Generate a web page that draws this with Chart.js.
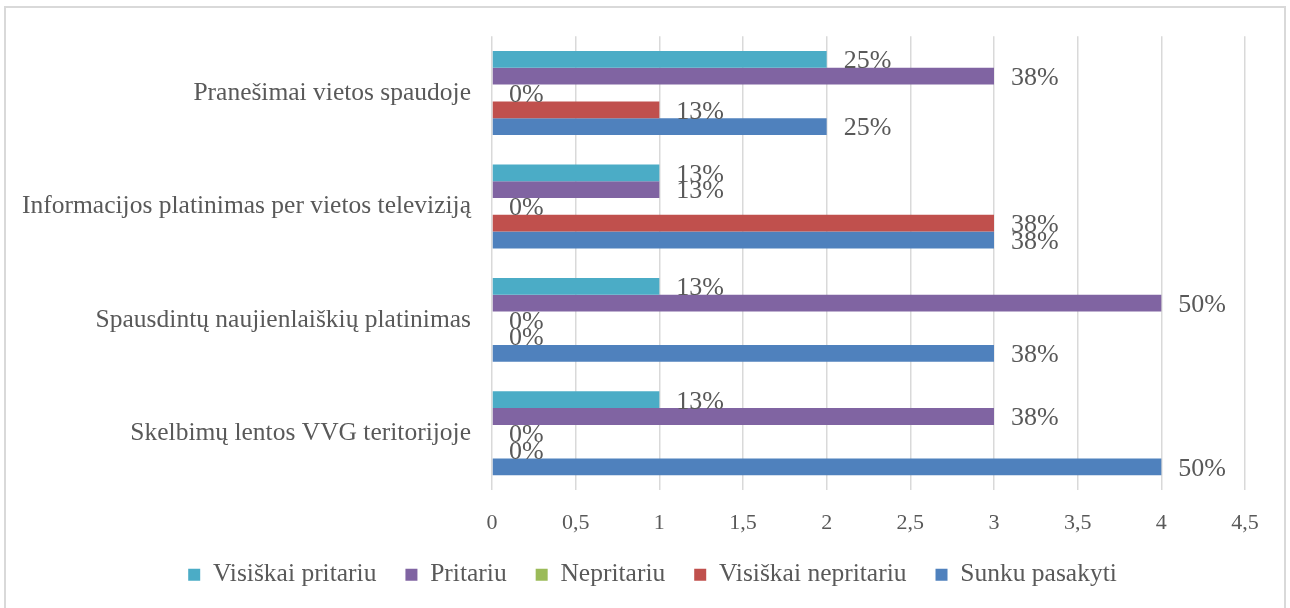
<!DOCTYPE html>
<html>
<head>
<meta charset="utf-8">
<script src="https://cdn.jsdelivr.net/npm/chart.js@4"></script>
<style>
    html, body { margin: 0; padding: 0; background: #fff; }
    #wrap { position: relative; width: 1290px; height: 608px; overflow: hidden; }
    #frame { position: absolute; left: 4px; top: 6px; width: 1282px; height: 620px; border: 2px solid #d9d9d9; box-sizing: border-box; }
    #chart { position: absolute; left: 0; top: 0; }
</style>
</head>
<body>
<div id="wrap">
    <div id="frame"></div>
    <canvas id="chart" width="1290" height="608"></canvas>
</div>
<script>
// ----------------------------------------------------------------------------
// Data
// ----------------------------------------------------------------------------
const categories = [
    'Pranešimai vietos spaudoje',
    'Informacijos platinimas per vietos televiziją',
    'Spausdintų naujienlaiškių platinimas',
    'Skelbimų lentos VVG teritorijoje'
];

const seriesNames = ['Visiškai pritariu', 'Pritariu', 'Nepritariu', 'Visiškai nepritariu', 'Sunku pasakyti'];

// counts per series, one value per category
const visiskaiPritariu = [2, 1, 1, 1];
const pritariu = [3, 1, 4, 3];
const nepritariu = [0, 0, 0, 0];
const visiskaiNepritariu = [1, 3, 0, 0];
const sunkuPasakyti = [2, 3, 3, 4];

// percentage labels printed next to each bar
const visiskaiPritariuPct = ['25%', '13%', '13%', '13%'];
const pritariuPct = ['38%', '13%', '50%', '38%'];
const nepritariuPct = ['0%', '0%', '0%', '0%'];
const visiskaiNepritariuPct = ['13%', '38%', '0%', '0%'];
const sunkuPasakytiPct = ['25%', '38%', '38%', '50%'];

const xTicks = [0, 0.5, 1, 1.5, 2, 2.5, 3, 3.5, 4, 4.5];

const colors = ['#4BACC6', '#8064A2', '#9BBB59', '#C0504D', '#4F81BD'];

const FONT = "'Liberation Serif', 'DejaVu Serif', serif";
const TEXT = '#595959';

const seriesValues = [visiskaiPritariu, pritariu, nepritariu, visiskaiNepritariu, sunkuPasakyti];
const seriesLabels = [visiskaiPritariuPct, pritariuPct, nepritariuPct, visiskaiNepritariuPct, sunkuPasakytiPct];

// simple data-label plugin: percentage text just right of each bar end
const barLabels = {
    id: 'barLabels',
    afterDatasetsDraw(chart) {
        const ctx = chart.ctx;
        ctx.save();
        ctx.font = `26px ${FONT}`;
        ctx.fillStyle = TEXT;
        ctx.textAlign = 'left';
        ctx.textBaseline = 'middle';
        chart.data.datasets.forEach((ds, i) => {
            const meta = chart.getDatasetMeta(i);
            meta.data.forEach((bar, j) => {
                ctx.fillText(seriesLabels[i][j], bar.x + 17, bar.y + 2);
            });
        });
        ctx.restore();
    }
};

// the legend in the original sits a bit right of the canvas centre
const legendShift = {
    id: 'legendShift',
    afterLayout(chart) {
        if (chart.legend) {
            chart.legend.left += 30;
            chart.legend.right += 30;
        }
    }
};

const ctx = document.getElementById('chart').getContext('2d');

new Chart(ctx, {
    type: 'bar',
    data: {
        labels: categories,
        datasets: seriesNames.map((name, i) => ({
            label: name,
            data: seriesValues[i],
            backgroundColor: colors[i],
            borderWidth: 0,
            categoryPercentage: 0.74,
            barPercentage: 1
        }))
    },
    options: {
        indexAxis: 'y',
        responsive: false,
        animation: false,
        layout: {
            padding: { top: 35, right: 45, left: 0, bottom: 10.5 }
        },
        plugins: {
            legend: {
                position: 'bottom',
                labels: {
                    color: TEXT,
                    font: { family: FONT, size: 25.5 },
                    boxWidth: 12,
                    boxHeight: 12,
                    padding: 29
                }
            },
            tooltip: { enabled: false }
        },
        scales: {
            x: {
                min: 0,
                max: 4.5,
                afterBuildTicks(scale) {
                    scale.ticks = xTicks.map(v => ({ value: v }));
                },
                afterFit(scale) {
                    scale.height = 43;
                },
                grid: {
                    color: '#d9d9d9',
                    lineWidth: 1.5,
                    drawTicks: false
                },
                border: { display: false },
                ticks: {
                    color: TEXT,
                    font: { family: FONT, size: 22 },
                    padding: 20,
                    callback: function(value) {
                        return String(value).replace('.', ',');
                    }
                }
            },
            y: {
                afterFit(scale) {
                    scale.width = 492;
                },
                grid: { display: false, drawTicks: false },
                border: { display: false },
                ticks: {
                    color: TEXT,
                    font: { family: FONT, size: 25.5 },
                    padding: 21
                }
            }
        }
    },
    plugins: [barLabels, legendShift]
});
</script>
</body>
</html>
